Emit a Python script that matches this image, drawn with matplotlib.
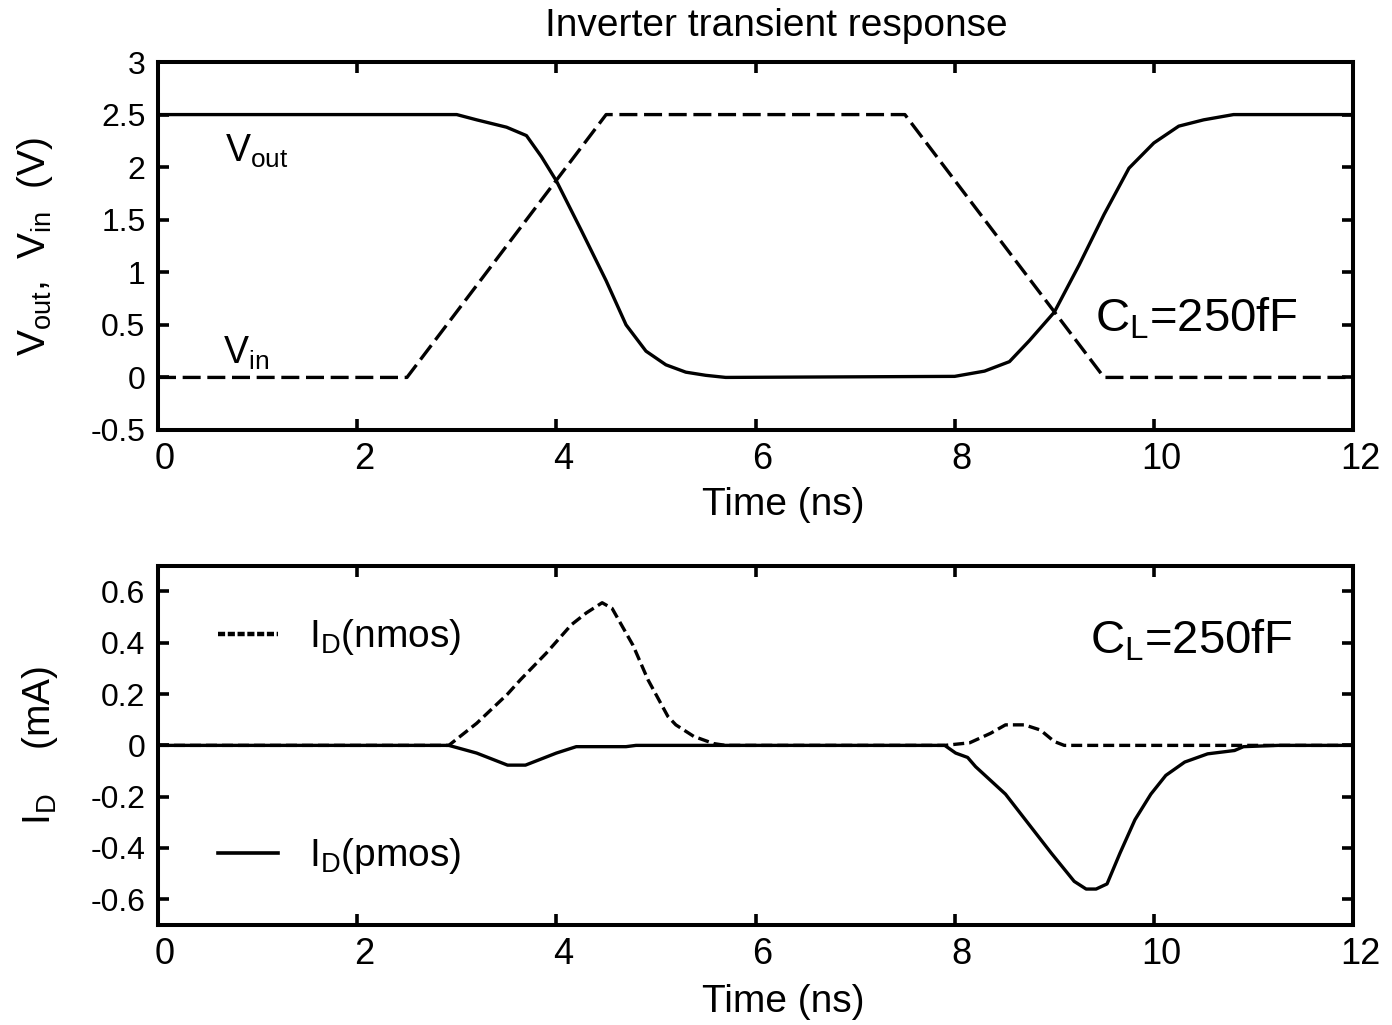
import numpy as np
import matplotlib
matplotlib.use('Agg')
import matplotlib.pyplot as plt
from matplotlib.lines import Line2D
from matplotlib.transforms import ScaledTranslation

plt.rcParams['font.family'] = ['Liberation Sans', 'DejaVu Sans']
plt.rcParams['mathtext.fontset'] = 'custom'
plt.rcParams['mathtext.rm'] = 'Liberation Sans'
plt.rcParams['mathtext.it'] = 'Liberation Sans'

# input / output voltages (V) vs time (ns)
t_vin = [0, 2.5, 4.5, 7.5, 9.5, 12]
v_in = [0, 0, 2.5, 2.5, 0, 0]

t_vout = [0, 3.0, 3.2, 3.5, 3.7, 3.85, 4.0, 4.25, 4.5, 4.7, 4.9, 5.1, 5.3, 5.5, 5.7,
          8.0, 8.3, 8.55, 8.75, 9.0, 9.25, 9.5, 9.75, 10.0, 10.25, 10.5, 10.8, 12]
v_out = [2.5, 2.5, 2.45, 2.38, 2.3, 2.1, 1.87, 1.4, 0.92, 0.5, 0.25, 0.12, 0.05, 0.02, 0.0,
         0.01, 0.06, 0.15, 0.35, 0.62, 1.07, 1.55, 1.99, 2.23, 2.39, 2.45, 2.5, 2.5]

# drain currents (mA)
t_n = [0, 2.92, 3.2, 3.51, 3.64, 3.9, 4.15, 4.3, 4.46, 4.56, 4.77, 4.92, 5.12, 5.2, 5.38, 5.58, 5.7,
       7.9, 8.15, 8.36, 8.51, 8.7, 8.86, 9.0, 9.1, 12]
i_n = [0, 0, 0.086, 0.2, 0.256, 0.36, 0.47, 0.516, 0.556, 0.534, 0.39, 0.256, 0.113, 0.08, 0.035, 0.007, 0,
       0, 0.01, 0.047, 0.08, 0.08, 0.06, 0.015, 0, 0]

t_p = [0, 2.92, 3.2, 3.51, 3.69, 4.0, 4.2, 4.7, 4.8,
       7.9, 8.01, 8.13, 8.21, 8.51, 8.74, 8.97, 9.2, 9.32, 9.42, 9.53, 9.66, 9.81, 9.97,
       10.12, 10.31, 10.54, 10.81, 10.9, 11.25, 12]
i_p = [0, 0, -0.03, -0.077, -0.077, -0.03, -0.005, -0.005, 0,
       0, -0.03, -0.047, -0.083, -0.19, -0.305, -0.42, -0.53, -0.56, -0.56, -0.54, -0.42, -0.29, -0.19,
       -0.117, -0.065, -0.033, -0.02, -0.005, 0, 0]

x_ticks = [0, 2, 4, 6, 8, 10, 12]
v_ticks = [-0.5, 0, 0.5, 1, 1.5, 2, 2.5, 3]
i_ticks = [-0.6, -0.4, -0.2, 0, 0.2, 0.4, 0.6]

fig = plt.figure(figsize=(13.92, 10.25), dpi=100)
ax1 = fig.add_axes([0.1135, 0.5805, 0.8585, 0.359])
ax2 = fig.add_axes([0.1135, 0.0976, 0.8585, 0.3504])

lw = 2.4
fs = 28
shift = ScaledTranslation(7 / 100, 0, fig.dpi_scale_trans)


def style(ax, yticks, ylim, xlab_y):
    ax.set_xlim(0, 12)
    ax.set_ylim(*ylim)
    ax.set_xticks(x_ticks)
    ax.set_yticks(yticks)
    ax.set_yticklabels(['%g' % y for y in yticks])
    ax.tick_params(direction='in', length=8, width=2.6, top=True, right=True)
    ax.tick_params(axis='x', labelsize=26, pad=9)
    ax.tick_params(axis='y', labelsize=23, pad=9)
    for lab in ax.get_xticklabels():
        lab.set_transform(lab.get_transform() + shift)
    for s in ax.spines.values():
        s.set_linewidth(2.9)
    ax.set_xlabel('Time (ns)', fontsize=fs)
    ax.xaxis.set_label_coords(0.523, xlab_y)


ax1.plot(t_vout, v_out, color='black', lw=lw)
ax1.plot(t_vin, v_in, color='black', lw=lw, ls=(0, (5.4, 2)))
style(ax1, v_ticks, (-0.5, 3), -0.155)
ax1.set_ylabel(r'V$_{\rm out}$,  V$_{\rm in}$  (V)', fontsize=fs)
ax1.yaxis.set_label_coords(-0.086, 0.5)
ax1.text(0.67, 2.05, r'V$_{\rm out}$', fontsize=27)
ax1.text(0.65, 0.135, r'V$_{\rm in}$', fontsize=27)
ax1.text(9.41, 0.44, r'C$_{\rm L}$=250fF', fontsize=34)
fig.text(776 / 1392, 1 - 26 / 1025, 'Inverter transient response', fontsize=fs,
         ha='center', va='center')

ax2.plot(t_n, i_n, color='black', lw=lw, ls=(0, (3.3, 1.5)))
ax2.plot(t_p, i_p, color='black', lw=lw)
style(ax2, i_ticks, (-0.7, 0.7), -0.165)
ax2.set_ylabel(r'I$_{\rm D}$    (mA)', fontsize=fs)
ax2.yaxis.set_label_coords(-0.082, 0.5)
ax2.text(9.36, 0.36, r'C$_{\rm L}$=250fF', fontsize=34)

handles = [Line2D([], [], color='black', lw=3.2, ls=(0, (1.6, 0.6))),
           Line2D([], [], color='black', lw=2.6)]
ax2.legend(handles, [r'I$_{\rm D}$(nmos)', r'I$_{\rm D}$(pmos)'],
           loc='center left', bbox_to_anchor=(0.05, 0.496), frameon=False, fontsize=fs,
           handlelength=1.55, handletextpad=0.8, labelspacing=4.6,
           borderpad=0, borderaxespad=0)

fig.savefig('out.png', dpi=100)
